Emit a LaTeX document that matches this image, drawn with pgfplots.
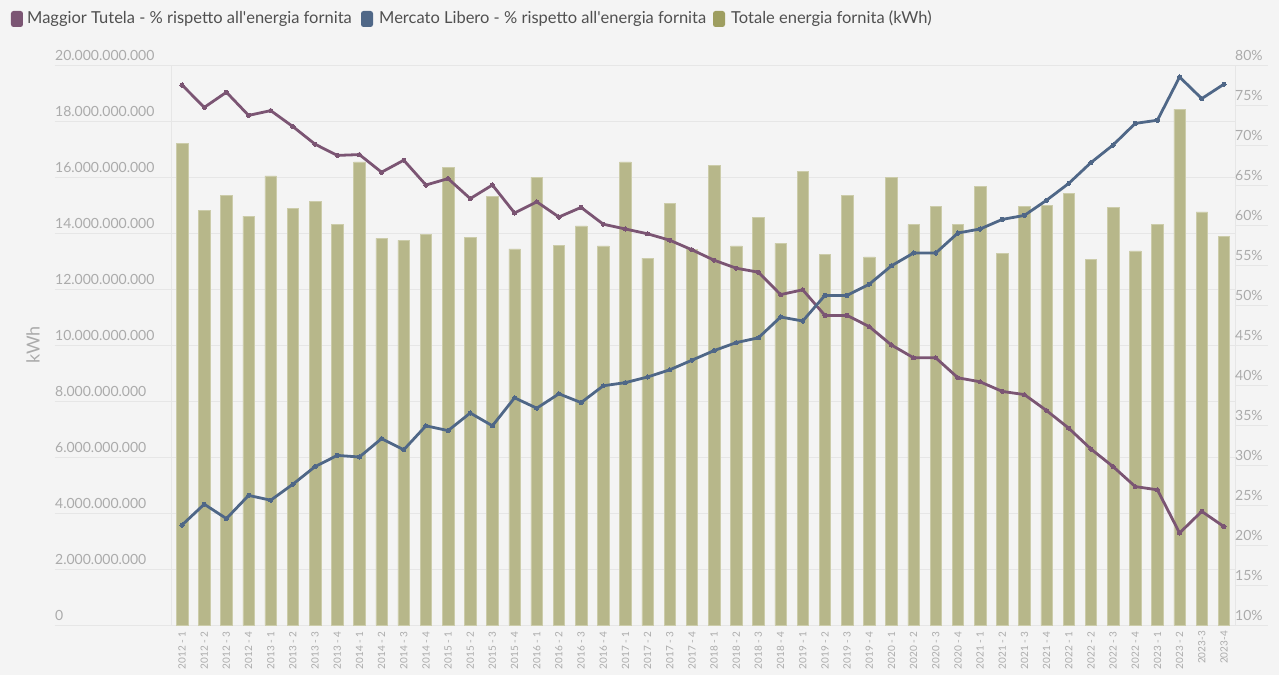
\documentclass[border=0pt]{standalone}
\usepackage{pgfplots}
\pgfplotsset{compat=1.18}
\usepackage{pgfplotstable}
\usepackage{fontspec}
\setmainfont{Lato}
\definecolor{bg}{HTML}{F4F4F4}
\definecolor{gridc}{HTML}{E6E6E6}
\definecolor{tickc}{HTML}{ABABAB}
\definecolor{mt}{HTML}{7B5573}
\definecolor{ml}{HTML}{4F6787}
\definecolor{barf}{HTML}{B7B78A}
\definecolor{barl}{HTML}{CCCCAA}
\definecolor{olive}{HTML}{9E9E60}
\definecolor{legt}{HTML}{505050}

\pgfplotstableread{
x kwh
0 17.20e9
1 14.82e9
2 15.35e9
3 14.60e9
4 16.04e9
5 14.88e9
6 15.12e9
7 14.32e9
8 16.54e9
9 13.81e9
10 13.74e9
11 13.95e9
12 16.33e9
13 13.85e9
14 15.32e9
15 13.43e9
16 15.98e9
17 13.57e9
18 14.25e9
19 13.54e9
20 16.54e9
21 13.10e9
22 15.06e9
23 13.42e9
24 16.42e9
25 13.54e9
26 14.57e9
27 13.63e9
28 16.21e9
29 13.24e9
30 15.35e9
31 13.15e9
32 15.98e9
33 14.30e9
34 14.95e9
35 14.30e9
36 15.67e9
37 13.27e9
38 14.95e9
39 14.99e9
40 15.40e9
41 13.05e9
42 14.92e9
43 13.36e9
44 14.32e9
45 18.42e9
46 14.75e9
47 13.89e9
}\bars

\pgfplotstableread{
x mt ml
0 77.5 22.5
1 74.7 25.1
2 76.6 23.3
3 73.7 26.2
4 74.3 25.6
5 72.3 27.6
6 70.1 29.8
7 68.7 31.2
8 68.8 31.0
9 66.6 33.3
10 68.1 31.9
11 65.0 34.9
12 65.8 34.3
13 63.3 36.5
14 65.0 34.9
15 61.5 38.4
16 62.9 37.1
17 61.0 38.9
18 62.2 37.8
19 60.1 39.9
20 59.5 40.3
21 58.9 41.0
22 58.1 41.9
23 56.9 43.1
24 55.6 44.3
25 54.6 45.3
26 54.1 45.9
27 51.3 48.5
28 51.9 48.0
29 48.7 51.2
30 48.7 51.2
31 47.3 52.6
32 45.0 54.9
33 43.4 56.5
34 43.4 56.5
35 40.9 59.0
36 40.4 59.5
37 39.2 60.7
38 38.8 61.2
39 36.8 63.1
40 34.6 65.2
41 32.0 67.8
42 29.8 70.0
43 27.3 72.7
44 26.9 73.1
45 21.5 78.5
46 24.2 75.8
47 22.3 77.6
}\shares

\begin{document}
\begin{tikzpicture}
\path[fill=bg, use as bounding box] (-171pt,-50pt) rectangle (1108pt,625pt);
% gridline extensions under tick labels
\foreach \v in {0,...,10} \draw[gridc, line width=0.8pt] (-116pt,\v*56pt) -- (0pt,\v*56pt);
\foreach \v in {0,...,14} \draw[gridc, line width=0.8pt] (1064pt,\v*40pt) -- (1097pt,\v*40pt);

\begin{axis}[
  at={(0pt,0pt)}, anchor=south west, scale only axis,
  width=1064pt, height=560pt,
  xmin=-0.5, xmax=47.5, ymin=0, ymax=20e9,
  scaled y ticks=false,
  axis line style={draw=gridc, line width=0.8pt},
  ymajorgrids, grid style={draw=gridc, line width=0.8pt},
  tick style={draw=none},
  ytick={0,2e9,4e9,6e9,8e9,10e9,12e9,14e9,16e9,18e9,20e9},
  yticklabels={0,2.000.000.000,4.000.000.000,6.000.000.000,8.000.000.000,10.000.000.000,12.000.000.000,14.000.000.000,16.000.000.000,18.000.000.000,20.000.000.000},
  yticklabel style={font=\fontsize{14}{14}\selectfont, text=tickc, anchor=south west, inner sep=0pt, xshift=-116pt, yshift=4pt},
  xtick={0,...,47},
  xticklabels={2012 - 1,2012 - 2,2012 - 3,2012 - 4,2013 - 1,2013 - 2,2013 - 3,2013 - 4,2014 - 1,2014 - 2,2014 - 3,2014 - 4,2015 - 1,2015 - 2,2015 - 3,2015 - 4,2016 - 1,2016 - 2,2016 - 3,2016 - 4,2017 - 1,2017 - 2,2017 - 3,2017 - 4,2018 - 1,2018 - 2,2018 - 3,2018 - 4,2019 - 1,2019 - 2,2019 - 3,2019 - 4,2020 - 1,2020 - 2,2020 - 3,2020 - 4,2021 - 1,2021 - 2,2021 - 3,2021 - 4,2022 - 1,2022 - 2,2022 - 3,2022 - 4,2023 - 1,2023 - 2,2023-3,2023-4},
  xticklabel style={font=\fontsize{10}{10}\selectfont, text=tickc, rotate=90, anchor=east, inner sep=0pt, xshift=-6pt},
  ylabel={kWh},
  ylabel style={font=\fontsize{18}{18}\selectfont, text=tickc, at={(axis description cs:-0.1297,0.5)}, anchor=center},
  /pgf/number format/assume math mode=true,
  clip=false,
]
\addplot[ybar, bar width=11.5pt, fill=barf, draw=barl, line width=0.6pt] table[x=x, y=kwh] {\bars};
\end{axis}

\begin{axis}[
  at={(0pt,0pt)}, anchor=south west, scale only axis,
  width=1064pt, height=560pt,
  xmin=-0.5, xmax=47.5, ymin=10, ymax=80,
  axis y line*=right, axis x line=none,
  y axis line style={draw=gridc, line width=0.8pt},
  tick style={draw=none},
  ytick={10,15,20,25,30,35,40,45,50,55,60,65,70,75,80},
  yticklabels={10\%,15\%,20\%,25\%,30\%,35\%,40\%,45\%,50\%,55\%,60\%,65\%,70\%,75\%,80\%},
  yticklabel style={font=\fontsize{14}{14}\selectfont, text=tickc, anchor=south west, inner sep=0pt, yshift=4pt},
  /pgf/number format/assume math mode=true,
  clip=false,
]
\addplot[mt, line width=2.8pt, mark=*, mark size=2.1pt, mark options={fill=mt, draw=mt, line width=0pt}] table[x=x, y=mt] {\shares};
\addplot[ml, line width=2.8pt, mark=*, mark size=2.1pt, mark options={fill=ml, draw=ml, line width=0pt}] table[x=x, y=ml] {\shares};
\end{axis}

% legend
\fill[mt, rounded corners=2.5pt] (-160pt,598pt) rectangle (-148pt,614pt);
\node[anchor=west, inner sep=0pt, text=legt, font=\fontsize{16.5}{16.5}\selectfont] at (-144pt,606.5pt) {Maggior Tutela - \% rispetto all\textquotesingle energia fornita};
\fill[ml, rounded corners=2.5pt] (190pt,598pt) rectangle (202pt,614pt);
\node[anchor=west, inner sep=0pt, text=legt, font=\fontsize{16.5}{16.5}\selectfont] at (208pt,606.5pt) {Mercato Libero - \% rispetto all\textquotesingle energia fornita};
\fill[olive, rounded corners=2.5pt] (542pt,598pt) rectangle (554pt,614pt);
\node[anchor=west, inner sep=0pt, text=legt, font=\fontsize{16.5}{16.5}\selectfont] at (560pt,606.5pt) {Totale energia fornita (kWh)};
\end{tikzpicture}
\end{document}
